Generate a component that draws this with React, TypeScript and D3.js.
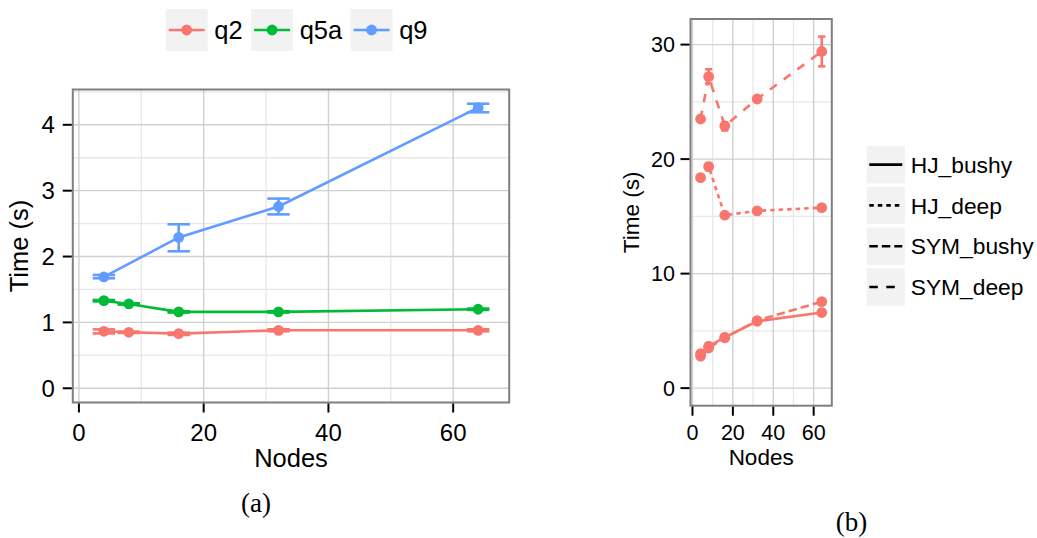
import React from "react";
import * as d3 from "d3";

// ---------- Data: panel (a) ----------
const nodesA = [4, 8, 16, 32, 64];
const nodesQ9 = [4, 16, 32, 64];
const q2Mean = [0.865, 0.85, 0.83, 0.88, 0.88];
const q2Lo = [0.833, 0.84, 0.81, 0.865, 0.865];
const q2Hi = [0.894, 0.86, 0.845, 0.895, 0.895];
const q5aMean = [1.33, 1.28, 1.16, 1.16, 1.2];
const q5aLo = [1.32, 1.27, 1.15, 1.15, 1.19];
const q5aHi = [1.34, 1.29, 1.17, 1.17, 1.21];
const q9Mean = [1.69, 2.29, 2.76, 4.26];
const q9Lo = [1.67, 2.08, 2.64, 4.19];
const q9Hi = [1.72, 2.49, 2.88, 4.32];
const seriesNamesA = ["q2", "q5a", "q9"];
const seriesColorsA = ["#F8766D", "#00BA38", "#619CFF"];

// ---------- Data: panel (b) ----------
const nodesB = [4, 8, 16, 32, 64];
const hjBushy = [3.0, 3.66, 4.44, 5.84, 6.6];
const hjBushyLo = [2.9, 3.55, 4.35, 5.75, 6.5];
const hjBushyHi = [3.1, 3.77, 4.53, 5.93, 6.7];
const hjDeep = [18.38, 19.34, 15.1, 15.48, 15.76];
const hjDeepLo = [18.3, 19.05, 15.0, 15.38, 15.66];
const hjDeepHi = [18.46, 19.65, 15.2, 15.58, 15.86];
const symBushy = [2.8, 3.5, 4.4, 5.9, 7.55];
const symBushyLo = [2.7, 3.4, 4.3, 5.8, 7.45];
const symBushyHi = [2.9, 3.6, 4.5, 6.0, 7.65];
const symDeep = [23.5, 27.2, 22.9, 25.25, 29.4];
const symDeepLo = [23.4, 26.6, 22.5, 25.1, 28.1];
const symDeepHi = [23.6, 27.85, 23.2, 25.4, 30.7];
const seriesNamesB = ["HJ_bushy", "HJ_deep", "SYM_bushy", "SYM_deep"];
const dashesB = ["none", "4.5,4", "8.5,4", "8.5,8.5"];

const xTicks = [0, 20, 40, 60];
const xMinor = [10, 30, 50];
const yTicksA = [0, 1, 2, 3, 4];
const yMinorA = [0.5, 1.5, 2.5, 3.5, 4.5];
const yTicksB = [0, 10, 20, 30];
const yMinorB = [5, 15, 25];

const RED = "#F8766D";
const FONT = "'Liberation Sans', Arial, Helvetica, sans-serif";
const SERIF = "'Liberation Serif', 'Times New Roman', serif";

type Pt = { x: number; y: number; lo: number; hi: number };
const mk = (xs: number[], m: number[], lo: number[], hi: number[]): Pt[] =>
  xs.map((x, i) => ({ x, y: m[i], lo: lo[i], hi: hi[i] }));

const CAP = 3.6; // errorbar width in data units (0.9 * resolution)

function domainX(): [number, number] {
  const lo = d3.min(nodesA)! - CAP / 2;
  const hi = d3.max(nodesA)! + CAP / 2;
  const pad = (hi - lo) * 0.05;
  return [lo - pad, hi + pad];
}

const charW: Record<string, number> = {
  q: 0.556, "2": 0.556, "5": 0.556, a: 0.556, "9": 0.556,
};
const textW = (s: string, fs: number) =>
  s.split("").reduce((a, c) => a + (charW[c] ?? 0.556), 0) * fs;

function Panel(props: {
  x0: number; x1: number; y0: number; y1: number;
  yDomain: [number, number];
  yTicks: number[]; yMinor: number[];
  tickFs: number; titleFs: number;
  series: { pts: Pt[]; color: string; dash: string }[];
  titleYx: number; nodesBaseline: number; tickBaseline: number; yLabelGap: number;
}) {
  const { x0, x1, y0, y1, yDomain, yTicks, yMinor, tickFs, titleFs, series } = props;
  const x = d3.scaleLinear().domain(domainX()).range([x0, x1]);
  const y = d3.scaleLinear().domain(yDomain).range([y1, y0]);
  const capHalf = (x(CAP) - x(0)) / 2;
  const line = d3.line<Pt>().x((d) => x(d.x)).y((d) => y(d.y));
  const tickLen = 9;
  return (
    <g>
      <rect x={x0} y={y0} width={x1 - x0} height={y1 - y0} fill="#fff" />
      {yMinor.map((v) => (
        <line key={"ym" + v} x1={x0} x2={x1} y1={y(v)} y2={y(v)} stroke="#E8E8E8" strokeWidth={1.3} />
      ))}
      {xMinor.map((v) => (
        <line key={"xm" + v} y1={y0} y2={y1} x1={x(v)} x2={x(v)} stroke="#E8E8E8" strokeWidth={1.3} />
      ))}
      {yTicks.map((v) => (
        <line key={"yM" + v} x1={x0} x2={x1} y1={y(v)} y2={y(v)} stroke="#D0D0D0" strokeWidth={1.4} />
      ))}
      {xTicks.map((v) => (
        <line key={"xM" + v} y1={y0} y2={y1} x1={x(v)} x2={x(v)} stroke="#D0D0D0" strokeWidth={1.4} />
      ))}
      {series.map((s, i) => (
        <g key={"s" + i}>
          <path d={line(s.pts)!} fill="none" stroke={s.color} strokeWidth={2.6}
            strokeDasharray={s.dash === "none" ? undefined : s.dash} />
          {s.pts.map((p, j) => (
            <g key={j}>
              <line x1={x(p.x)} x2={x(p.x)} y1={y(p.lo)} y2={y(p.hi)} stroke={s.color} strokeWidth={2.6} />
              <line x1={x(p.x) - capHalf} x2={x(p.x) + capHalf} y1={y(p.lo)} y2={y(p.lo)} stroke={s.color} strokeWidth={2.6} />
              <line x1={x(p.x) - capHalf} x2={x(p.x) + capHalf} y1={y(p.hi)} y2={y(p.hi)} stroke={s.color} strokeWidth={2.6} />
              <circle cx={x(p.x)} cy={y(p.y)} r={5.4} fill={s.color} />
            </g>
          ))}
        </g>
      ))}
      <rect x={x0} y={y0} width={x1 - x0} height={y1 - y0} fill="none" stroke="#7F7F7F" strokeWidth={2} />
      {yTicks.map((v) => (
        <g key={"yt" + v}>
          <line x1={x0 - 1 - tickLen} x2={x0 - 1} y1={y(v)} y2={y(v)} stroke="#000" strokeWidth={2} />
          <text x={x0 - 1 - tickLen - props.yLabelGap} y={y(v)} dy="0.36em" textAnchor="end"
            fontSize={tickFs} fontFamily={FONT} fill="#000">{v}</text>
        </g>
      ))}
      {xTicks.map((v) => (
        <g key={"xt" + v}>
          <line y1={y1 + 1} y2={y1 + 1 + tickLen} x1={x(v)} x2={x(v)} stroke="#000" strokeWidth={2} />
          <text x={x(v)} y={props.tickBaseline} textAnchor="middle" fontSize={tickFs} fontFamily={FONT} fill="#000">{v}</text>
        </g>
      ))}
      <text x={(x0 + x1) / 2} y={props.nodesBaseline} textAnchor="middle" fontSize={titleFs} fontFamily={FONT} fill="#000">Nodes</text>
      <text transform={`translate(${props.titleYx},${(y0 + y1) / 2}) rotate(-90)`} textAnchor="middle"
        fontSize={titleFs} fontFamily={FONT} fill="#000">Time (s)</text>
    </g>
  );
}

export default function App() {
  const seriesA = [
    { pts: mk(nodesA, q2Mean, q2Lo, q2Hi), color: seriesColorsA[0], dash: "none" },
    { pts: mk(nodesA, q5aMean, q5aLo, q5aHi), color: seriesColorsA[1], dash: "none" },
    { pts: mk(nodesQ9, q9Mean, q9Lo, q9Hi), color: seriesColorsA[2], dash: "none" },
  ];
  const seriesB = [
    { pts: mk(nodesB, hjBushy, hjBushyLo, hjBushyHi), color: RED, dash: dashesB[0] },
    { pts: mk(nodesB, hjDeep, hjDeepLo, hjDeepHi), color: RED, dash: dashesB[1] },
    { pts: mk(nodesB, symBushy, symBushyLo, symBushyHi), color: RED, dash: dashesB[2] },
    { pts: mk(nodesB, symDeep, symDeepLo, symDeepHi), color: RED, dash: dashesB[3] },
  ];
  const maxA = d3.max([...q2Hi, ...q5aHi, ...q9Hi])!;
  const maxB = d3.max([...hjBushyHi, ...hjDeepHi, ...symBushyHi, ...symDeepHi])!;
  const yDomA: [number, number] = [-0.05 * maxA, maxA * 1.05];
  const yDomB: [number, number] = [-0.05 * maxB, maxB * 1.05];

  // legend (a)
  const legFsA = 25.5;
  let cx = 165.7;
  const legA = seriesNamesA.map((n, i) => {
    const kx = cx;
    const tw = textW(n, legFsA);
    cx = kx + 42 + 6.6 + tw + 8.4;
    return { n, kx, color: seriesColorsA[i] };
  });

  return (
    <svg width={1037} height={538} style={{ position: "absolute", left: 0, top: 0, background: "#fff" }}>
      <rect width={1037} height={538} fill="#fff" />
      <Panel x0={72.8} x1={509.2} y0={89.5} y1={402.5} yDomain={yDomA}
        yTicks={yTicksA} yMinor={yMinorA} tickFs={24} titleFs={25.5} series={seriesA}
        titleYx={27.5} nodesBaseline={466.5} tickBaseline={441} yLabelGap={8} />
      <Panel x0={690.5} x1={831.8} y0={19} y1={405.7} yDomain={yDomB}
        yTicks={yTicksB} yMinor={yMinorB} tickFs={21.5} titleFs={22.5} series={seriesB}
        titleYx={639} nodesBaseline={465} tickBaseline={440} yLabelGap={5.5} />

      {legA.map((l) => (
        <g key={l.n}>
          <rect x={l.kx} y={9} width={42} height={42} fill="#F2F2F2" />
          <line x1={l.kx + 3} x2={l.kx + 39} y1={30} y2={30} stroke={l.color} strokeWidth={2.6} />
          <circle cx={l.kx + 21} cy={30} r={5.4} fill={l.color} />
          <text x={l.kx + 48.6} y={39} fontSize={legFsA} fontFamily={FONT} fill="#000">{l.n}</text>
        </g>
      ))}

      {seriesNamesB.map((n, i) => {
        const ky = 146 + i * 40.8;
        return (
          <g key={n}>
            <rect x={866.7} y={ky} width={38.3} height={37.3} fill="#F2F2F2" />
            <line x1={869.3} x2={902.3} y1={ky + 18.6} y2={ky + 18.6} stroke="#000" strokeWidth={2.6}
              strokeDasharray={dashesB[i] === "none" ? undefined : dashesB[i]} />
            <text x={910.7} y={ky + 18.6 + 8.2} fontSize={22.8} fontFamily={FONT} fill="#000">{n}</text>
          </g>
        );
      })}

      <text x={256} y={512} textAnchor="middle" fontSize={27} fontFamily={SERIF} fill="#000">(a)</text>
      <text x={851.5} y={531} textAnchor="middle" fontSize={27} fontFamily={SERIF} fill="#000">(b)</text>
    </svg>
  );
}
